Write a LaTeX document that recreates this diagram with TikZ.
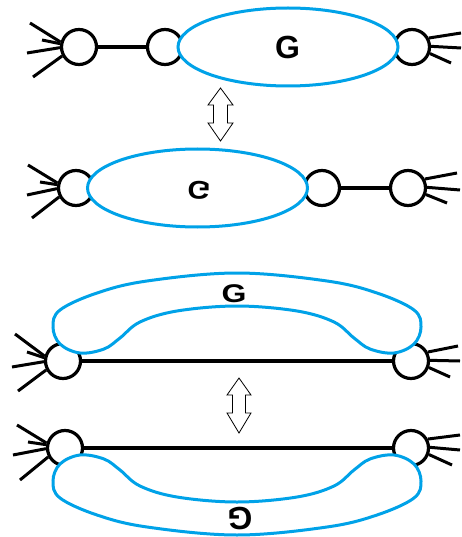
\documentclass[tikz,border=0pt]{standalone}
\usepackage{fontspec}
\setmainfont{Liberation Sans}
\usetikzlibrary{shapes.geometric,calc}
\definecolor{pblue}{RGB}{0,162,232}
\begin{document}
\begin{tikzpicture}[x=1pt,y=-1pt,
 vtx/.style={circle,draw=black,line width=3.2pt,fill=white,minimum size=35pt,inner sep=0pt},
 wire/.style={line width=3.2pt,black},
 whisk/.style={line width=3pt,black},
 blob/.style={draw=pblue,line width=3pt,fill=white},
 lbl/.style={font=\fontsize{32}{32}\selectfont\bfseries,inner sep=0pt},
 dbl/.style={draw=black,line width=0.8pt,fill=white,line join=miter}]
\useasboundingbox (0,0) rectangle (461,537);
\def\banana{(53,327) (60,310) (97,293) (147,281) (237,273) (327,281) (377,293) (414,310) (421,327) (414,344) (394,353) (370,349) (354,338) (334,322) (297,311) (237,306) (177,311) (140,322) (120,338) (104,349) (80,353) (60,344)}
% ---------- row 1 ----------
\node[vtx] (a1) at (79,47) {};
\node[vtx] (a2) at (165,47) {};
\node[vtx] (a3) at (412,47) {};
\draw[wire] (a1) -- (a2);
\node[blob,ellipse,minimum width=220pt,minimum height=78pt,inner sep=0pt] (e1) at (288,47) {};
\node[lbl] (g1) at (287.5,47) {G};
\foreach \a/\dx/\dy in {165/-49/-24,170/-37/-7,182/-52/6,208/-46/30}
  \draw[whisk] (a1.\a) -- ($(a1.center)+(\dx,\dy)$);
\foreach \a/\dx/\dy in {28/49/-14,2/49/1,-20/39/16}
  \draw[whisk] (a3.\a) -- ($(a3.center)+(\dx,\dy)$);
% arrow 1
\draw[dbl] (220.5,88) -- ++(12.5,17) -- ++(-5.5,0) -- ++(0,18) -- ++(5.5,0)
  -- ++(-12.5,18) -- ++(-12.5,-18) -- ++(5.5,0) -- ++(0,-18) -- ++(-5.5,0) -- cycle;
% ---------- row 2 ----------
\node[vtx] (b1) at (76,188) {};
\node[vtx] (b2) at (322,188) {};
\node[vtx] (b3) at (408,188) {};
\draw[wire] (b2) -- (b3);
\node[blob,ellipse,minimum width=220pt,minimum height=78pt,inner sep=0pt] (e2) at (197.5,188) {};
\node[lbl,xscale=0.92,yscale=-0.8] (g2) at (199,190) {G};
\foreach \a/\dx/\dy in {165/-48/-23,170/-36/-6,182/-49/7,208/-44/30}
  \draw[whisk] (b1.\a) -- ($(b1.center)+(\dx,\dy)$);
\foreach \a/\dx/\dy in {28/49/-15,2/52/2,-20/39/15}
  \draw[whisk] (b3.\a) -- ($(b3.center)+(\dx,\dy)$);
% ---------- row 3 ----------
\node[vtx] (c1) at (63,361) {};
\node[vtx] (c2) at (411,361) {};
\draw[wire] (c1) -- (c2);
\draw[blob] plot[smooth cycle,tension=0.6] coordinates {\banana};
\node[lbl,yscale=0.8] (g3) at (234,294) {G};
\foreach \a/\dx/\dy in {165/-48/-27,170/-36/-9,182/-51/6,208/-45/30}
  \draw[whisk] (c1.\a) -- ($(c1.center)+(\dx,\dy)$);
\foreach \a/\dx/\dy in {28/47/-15,2/49/0,-20/39/16}
  \draw[whisk] (c2.\a) -- ($(c2.center)+(\dx,\dy)$);
% arrow 2
\draw[dbl] (239,378) -- ++(12,17) -- ++(-5.5,0) -- ++(0,18) -- ++(5.5,0)
  -- ++(-12,20) -- ++(-12,-20) -- ++(5.5,0) -- ++(0,-18) -- ++(-5.5,0) -- cycle;
% ---------- row 4 ----------
\node[vtx] (d1) at (65,448) {};
\node[vtx] (d2) at (411,448) {};
\draw[wire] (d1) -- (d2);
\begin{scope}[shift={(0,808)},yscale=-1]
\draw[blob] plot[smooth cycle,tension=0.6] coordinates {\banana};
\end{scope}
\node[lbl,rotate=180] (g4) at (240,519) {G};
\foreach \a/\dx/\dy in {165/-48/-23,170/-37/-6,182/-52/7,208/-45/32}
  \draw[whisk] (d1.\a) -- ($(d1.center)+(\dx,\dy)$);
\foreach \a/\dx/\dy in {28/49/-13,2/49/2,-20/41/17}
  \draw[whisk] (d2.\a) -- ($(d2.center)+(\dx,\dy)$);
\end{tikzpicture}
\end{document}
